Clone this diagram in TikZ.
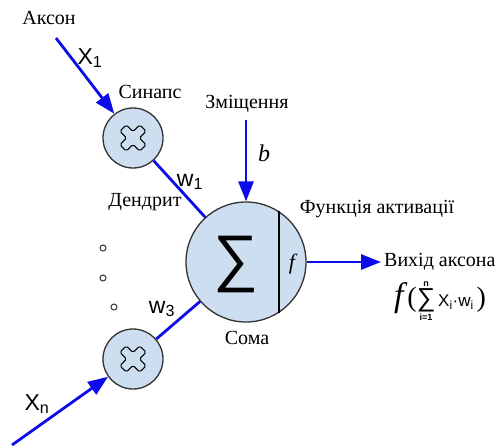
\documentclass[tikz,border=0pt]{standalone}
\usepackage{fontspec}
\setmainfont{Liberation Serif}
\setsansfont{Liberation Sans}
\usetikzlibrary{arrows.meta}
\definecolor{somablue}{RGB}{206,222,241}
\definecolor{sigblue}{RGB}{12,12,235}

\begin{document}
\begin{tikzpicture}[x=1pt,y=-1pt,
          cell/.style={circle,draw=black!80,line width=1.3pt,fill=somablue,
                       inner sep=0pt},
          sig/.style={draw=sigblue,line width=2.8pt},
          sigarrow/.style={sig,-{Triangle[length=20pt,width=15pt]}},
          lbl/.style={font=\fontsize{20}{22}\selectfont},
          sym/.style={font=\sffamily\fontsize{23}{23}\selectfont},
          dot/.style={circle,draw=black!80,line width=1pt,inner sep=0pt,
                      minimum size=6pt},
          mul/.pic={\draw[line width=1.1pt,rounded corners=1.8pt,rotate=45]
                      (4.5,4.5) -- (14,4.5) -- (14,-4.5) -- (4.5,-4.5) -- (4.5,-14)
                      -- (-4.5,-14) -- (-4.5,-4.5) -- (-14,-4.5) -- (-14,4.5)
                      -- (-4.5,4.5) -- (-4.5,14) -- (4.5,14) -- cycle;}]
        \useasboundingbox (0,0) rectangle (500,447);
        % cells
        \node[cell,minimum size=120pt] (soma) at (246,262) {};
        \node[cell,minimum size=60pt] (syn1) at (133,138) {};
        \node[cell,minimum size=60pt] (syn2) at (133,359) {};
        \pic at (syn1) {mul};
        \pic at (syn2) {mul};
        \draw[line width=2.4pt] (soma.57) -- (soma.-57);
        \node[font=\fontsize{63}{63}\selectfont\sffamily,inner sep=0pt] (sum) at (236,264) {∑};
        \node[font=\fontsize{22}{22}\selectfont\itshape] (f) at (292,264) {f};
        % dots
        \node[dot] (d1) at (103,248) {};
        \node[dot] (d2) at (103,278) {};
        \node[dot] (d3) at (114,307) {};
        % free ends
        \coordinate (ax1) at (56,38);
        \coordinate (axn) at (12,445);
        \coordinate (bias) at (246,120);
        % labels
        \node[lbl] (axon) at (49,18) {Аксон};
        \node[lbl] (synapse) at (150,92) {Синапс};
        \node[lbl] (dendrite) at (145,202) {Дендрит};
        \node[lbl] (shift) at (247,104) {Зміщення};
        \node[lbl] (act) at (377,209) {Функція активації};
        \node[lbl] (soma-lbl) at (247,338) {Сома};
        \node[lbl,anchor=west,inner sep=3pt] (out) at (381,262) {Вихід аксона};
        \node[sym] (x1) at (90,58) {X\textsubscript{1}};
        \node[sym] (xn) at (37,404) {X\textsubscript{n}};
        \node[sym] (w1) at (190,182) {w\textsubscript{1}};
        \node[sym] (w3) at (162,309) {w\textsubscript{3}};
        \node[font=\fontsize{24}{24}\selectfont\itshape] (b) at (264,153) {b};
        \node[inner sep=0pt] (formula) at (440,301)
          {\fontsize{34}{34}\selectfont\itshape f\/\upshape\fontsize{28}{28}\selectfont(%
           $\mathop{\hbox{\sffamily\fontsize{26}{26}\selectfont ∑}}%
           \limits_{\hbox{\sffamily\bfseries\fontsize{9}{9}\selectfont i=1}}%
           ^{\hbox{\sffamily\bfseries\fontsize{9}{9}\selectfont n}}$%
           {\sffamily\fontsize{17}{17}\selectfont\,X\textsubscript{i}·w\textsubscript{i}\,})};
        % connectors
        \draw[sigarrow] (ax1) -- (syn1);
        \draw[sigarrow] (axn) -- (syn2);
        \draw[sig] (syn1) -- (soma);
        \draw[sig] (syn2) -- (soma);
        \draw[sigarrow] (bias) -- (soma);
        \draw[sigarrow] (soma) -- (out);
\end{tikzpicture}
\end{document}
